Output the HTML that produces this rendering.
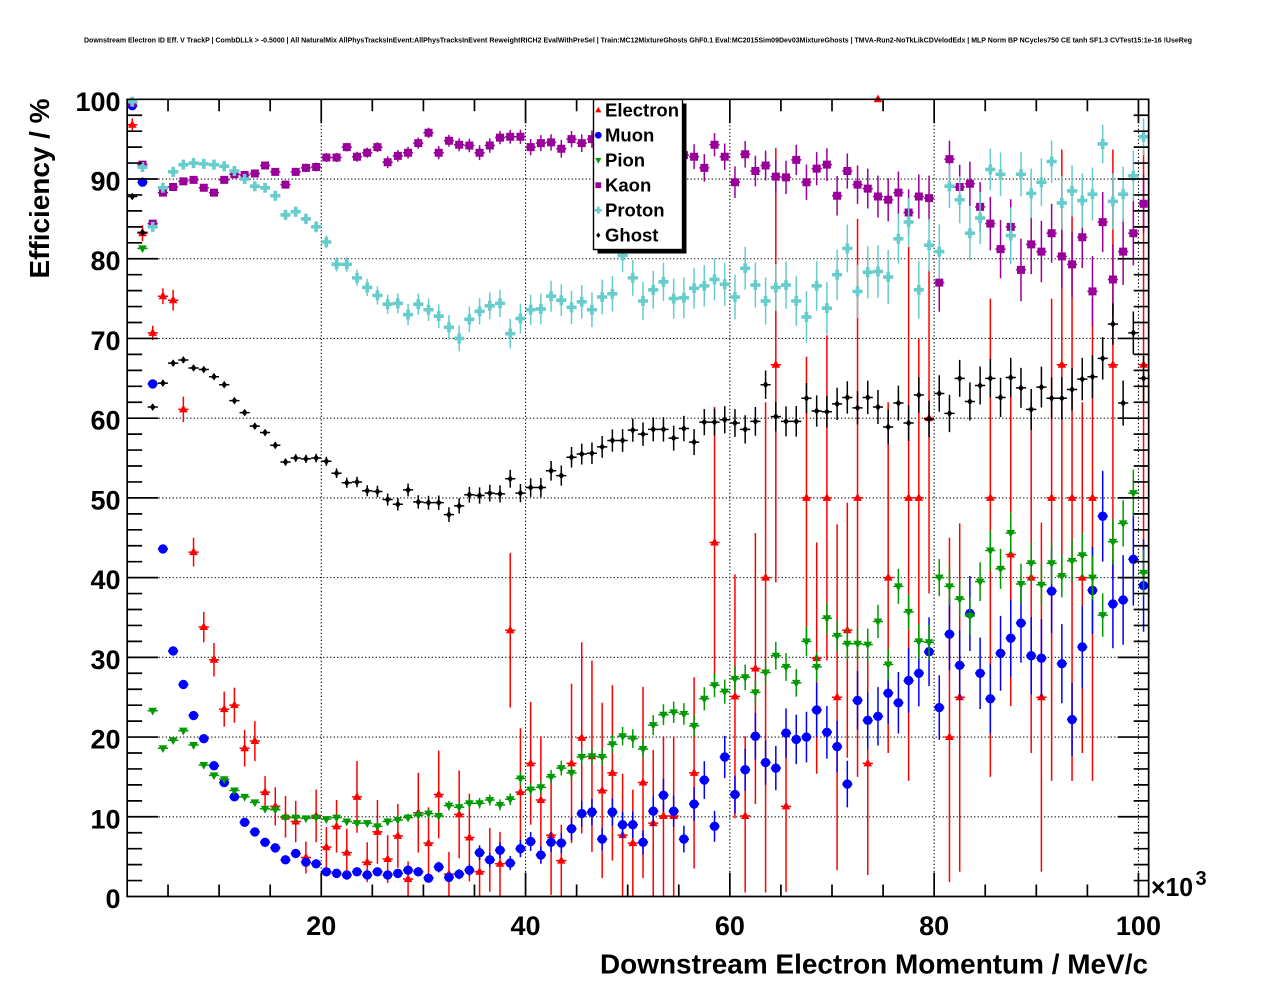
<!DOCTYPE html>
<html><head><meta charset="utf-8"><title>Downstream Electron ID Eff.</title>
<style>html,body{margin:0;padding:0;background:#fff;overflow:hidden}svg{display:block}text{font-family:"Liberation Sans",Arial,Helvetica,sans-serif}</style></head>
<body>
<svg id="c" xmlns="http://www.w3.org/2000/svg" width="1276" height="996" viewBox="0 0 1276 996">
<rect x="0" y="0" width="1276" height="996" fill="#fff"/>
<text x="638" y="42.5" font-size="7.5" font-weight="bold" text-anchor="middle" textLength="1108" lengthAdjust="spacingAndGlyphs">Downstream Electron ID Eff. V TrackP | CombDLLk &gt; -0.5000 | All NaturalMix AllPhysTracksInEvent:AllPhysTracksInEvent ReweightRICH2 EvalWithPreSel | Train:MC12MixtureGhosts GhF0.1 Eval:MC2015Sim09Dev03MixtureGhosts | TMVA-Run2-NoTkLikCDVelodEdx | MLP Norm BP NCycles750 CE tanh SF1.3 CVTest15:1e-16 !UseReg</text>
<g id="plot"></g>
<g id="axes"></g>
<g id="legend">
<rect x="597.5" y="103.5" width="89" height="150" fill="#000"/>
<rect x="593.5" y="99.5" width="89" height="150" fill="#fff" stroke="#000" stroke-width="1.4"/>
<g font-weight="bold" font-size="18.5" fill="#000">
<text x="605" y="116.7">Electron</text>
<text x="605" y="141.7">Muon</text>
<text x="605" y="166.7">Pion</text>
<text x="605" y="191.7">Kaon</text>
<text x="605" y="216.7">Proton</text>
<text x="605" y="241.7">Ghost</text>
</g>
<g id="legmk"></g>
</g>
<g font-weight="bold" font-size="27" fill="#000" text-anchor="end">
<text x="120.5" y="908">0</text>
<text x="120.5" y="828.3">10</text>
<text x="120.5" y="748.6">20</text>
<text x="120.5" y="668.8">30</text>
<text x="120.5" y="589.1">40</text>
<text x="120.5" y="509.4">50</text>
<text x="120.5" y="429.7">60</text>
<text x="120.5" y="350">70</text>
<text x="120.5" y="270.2">80</text>
<text x="120.5" y="190.5">90</text>
<text x="120.5" y="110.8">100</text>
</g>
<g font-weight="bold" font-size="27" fill="#000" text-anchor="middle">
<text x="321.25" y="935">20</text>
<text x="525.55" y="935">40</text>
<text x="729.85" y="935">60</text>
<text x="934.15" y="935">80</text>
<text x="1138.45" y="935">100</text>
</g>
<text x="1151" y="896" font-size="26" font-weight="bold" textLength="42" lengthAdjust="spacingAndGlyphs">×10</text>
<text x="1195.5" y="885" font-size="20" font-weight="bold">3</text>
<text x="1148" y="973.3" font-size="28" font-weight="bold" text-anchor="end" textLength="548" lengthAdjust="spacingAndGlyphs">Downstream Electron Momentum / MeV/c</text>
<text transform="translate(49,98.5) rotate(-90)" x="0" y="0" font-size="28" font-weight="bold" text-anchor="end" textLength="180" lengthAdjust="spacingAndGlyphs">Efficiency / %</text>
</svg>
<script>
(function(){
var X=function(v){return 116.95+10.215*v;}, Y=function(v){return 896.5-7.972*v;};
function f(n){return n.toFixed(2);}
var shapes={
 tu:function(x,y,s){return 'M'+f(x)+','+f(y-4.8*s)+'L'+f(x+4.3*s)+','+f(y+3.0*s)+'L'+f(x-4.3*s)+','+f(y+3.0*s)+'Z';},
 td:function(x,y,s){return 'M'+f(x)+','+f(y+4.8*s)+'L'+f(x+4.3*s)+','+f(y-3.0*s)+'L'+f(x-4.3*s)+','+f(y-3.0*s)+'Z';},
 ci:function(x,y,s){var r=4.7*s;return 'M'+f(x-r)+','+f(y)+'a'+f(r)+','+f(r)+' 0 1,0 '+f(2*r)+',0a'+f(r)+','+f(r)+' 0 1,0 '+f(-2*r)+',0Z';},
 sq:function(x,y,s){var h=4.0*s;return 'M'+f(x-h)+','+f(y-h)+'h'+f(2*h)+'v'+f(2*h)+'h'+f(-2*h)+'Z';},
 cr:function(x,y,s){var a=5.0*s,t=1.8*s;return 'M'+f(x-t)+','+f(y-a)+'H'+f(x+t)+'V'+f(y-t)+'H'+f(x+a)+'V'+f(y+t)+'H'+f(x+t)+'V'+f(y+a)+'H'+f(x-t)+'V'+f(y+t)+'H'+f(x-a)+'V'+f(y-t)+'H'+f(x-t)+'Z';},
 di:function(x,y,s){return 'M'+f(x)+','+f(y-3.8*s)+'L'+f(x+2.8*s)+','+f(y)+'L'+f(x)+','+f(y+3.8*s)+'L'+f(x-2.8*s)+','+f(y)+'Z';}
};
var E=[[96.8,0.8],[83.2,1.0],[70.7,0.9],[75.3,1.0],[74.8,1.3],[61.1,1.6],[43.2,1.8],[33.8,1.9],[29.7,2.1],[23.5,2.2],
[24.0,2.2],[18.6,2.3],[19.5,2.5],[13.1,2.0],[11.3,2.4],[10.0,2.6],[9.4,2.6],[4.9,2.0],[10.1,3.3],[6.2,2.5],
[8.8,3.3],[5.5,3.0],[12.5,4.5],[4.3,2.5],[8.1,4.0],[4.7,3.0],[7.6,4.0],[2.2,2.2],[10.5,5.0],[6.7,4.5],
[12.8,5.5],[2.8,2.8],[10.3,5.5],[7.4,5.5],[3.1,3.1],[4.6,4.0],[4.1,4.0],[33.4,9.7],[13.1,8],[16.7,7.7],
[12.1,8],[7.7,7.5],[4.5,4.5],[16.7,10],[19.9,12],[17.6,12],[13.3,11],[15.5,11],[7.7,7.7],[6.7,6.7],
[14.3,12],[9.2,9.2],[10.1,10],[10.1,10],null,[15.5,12],null,[44.4,17],null,[25.1,15.3],
[10.1,9.6,10],[28.6,17],[40,39.5,22],[66.7,27.3,27.2],[11.3,10.7,9.6],null,[50,17.7],[29.9,14.5],[50,20.4],[25,21.7],
[33.4,16],[50,35],[16.7,14],[100,0],[40,22],null,[50,35.5,31.5],[50,20],[60,22,18.6],null,
[20,18.2,25],[25,21.9,21.8],null,null,[50,35,25],null,[42.9,19,20],null,[40,22],[25,21.9],
[50,35.5,25],[66.7,27],[50,35.5],[40,22],[50,35.5,25],null,[66.7,27],null,null,[66.7,27]];
var M=[99.2,89.6,64.3,43.6,30.8,26.6,22.7,19.8,16.4,14.3,
12.5,9.3,8.1,6.8,6.1,4.6,5.4,4.3,4.1,3.1,
2.9,2.7,3.1,2.7,3.1,2.7,2.9,3.3,3.1,2.3,
3.7,2.4,2.8,3.3,5.5,4.6,5.8,4.2,6.0,6.9,
5.2,6.8,6.7,8.5,10.4,10.6,7.2,10.6,9.0,9.0,
6.8,10.7,12.7,10.7,7.2,11.6,14.6,8.8,17.5,12.8,
15.9,20.1,16.8,16.1,20.5,19.7,20.0,23.4,20.6,18.8,
14.1,24.6,22.1,22.6,25.5,24.3,27.1,28.0,30.7,23.7,
32.9,29.0,35.5,28.0,24.8,30.5,32.4,34.3,30.2,29.9,
38.3,29.2,22.2,31.3,38.4,47.7,36.7,37.2,42.3,39.0];
var P=[99.7,81.3,23.3,18.6,19.6,20.8,19.0,16.5,15.2,14.7,
13.3,12.5,11.8,11.0,10.9,9.9,9.9,9.8,9.9,9.7,
9.9,9.4,9.2,9.2,8.8,9.4,9.6,9.9,10.2,10.4,
10.1,11.4,11.2,11.7,11.7,12.1,11.5,12.2,14.8,13.4,
13.7,15.0,16.1,15.5,17.5,17.6,17.5,19.1,20.1,19.8,
18.5,21.5,22.8,23.1,22.9,21.4,24.8,26.5,25.7,27.3,
27.5,25.6,28.1,30.2,28.8,26.8,32.0,28.8,34.9,32.7,
31.7,31.7,31.6,34.5,29.1,38.9,35.7,32.0,31.9,40.0,
38.9,37.3,35.2,39.5,43.4,41.1,45.6,39.2,41.8,39.1,
41.8,40.2,42.1,42.8,40.0,35.3,44.5,46.8,50.6,40.6];
var K=[99.6,91.8,84.4,88.3,89.0,89.7,89.9,88.9,88.3,89.9,
90.6,90.5,90.7,91.7,90.9,89.3,90.9,91.4,91.5,92.7,
92.7,94.0,92.8,93.3,94.0,92.1,92.9,93.3,94.5,95.8,
93.3,94.8,94.3,94.2,93.3,94.2,95.2,95.3,95.3,94.0,
94.5,94.6,93.8,95.0,94.5,95.0,94.5,95.0,94.0,95.2,
94.3,93.8,94.8,93.5,93.0,92.8,91.4,94.3,92.8,89.6,
93.1,91.0,91.7,90.3,90.2,92.4,89.6,91.3,91.8,87.9,
91.0,89.3,88.8,87.8,87.4,88.3,85.8,87.8,87.6,77.0,
92.5,89.0,89.4,86.5,84.4,81.2,84.0,78.6,81.8,80.9,
83.2,80.3,79.3,82.7,75.9,84.6,77.4,80.9,83.2,86.9];
var PR=[99.7,91.5,84.0,88.9,90.9,91.8,92.0,91.9,91.8,91.6,
91.0,90.0,89.1,88.9,87.9,85.5,85.9,85.0,84.0,82.1,
79.3,79.3,77.6,76.4,75.4,74.3,74.4,73.0,74.3,73.6,
72.8,71.4,70.0,72.4,73.4,74.1,74.4,70.6,72.5,73.6,
73.7,75.3,74.8,73.9,74.6,73.6,75.2,75.6,80.4,77.6,
74.7,76.1,77.1,75.0,75.1,76.3,76.6,77.4,76.8,75.2,
78.8,76.7,74.7,76.4,76.7,74.7,72.7,76.6,73.8,78.0,
81.3,75.9,78.3,78.4,77.7,82.5,84.6,76.1,81.7,80.9,
89.1,87.4,83.2,85.1,91.2,90.6,82.9,90.6,88.2,89.6,
92.2,87.0,88.5,87.3,88.1,94.4,87.2,88.1,90.4,95.3];
var G=[87.8,83.3,61.4,64.4,66.9,67.3,66.3,66.1,65.2,64.2,
62.2,60.7,59.0,58.2,56.6,54.5,55.0,54.9,55.0,54.6,
53.1,51.9,52.0,50.9,50.8,49.8,49.2,51.0,49.5,49.4,
49.4,47.9,49.0,50.4,50.3,50.6,50.5,52.4,50.6,51.3,
51.3,53.4,52.8,55.1,55.5,55.6,56.4,57.2,57.2,58.5,
58.0,58.6,58.6,57.5,58.7,57.0,59.5,59.5,59.8,59.4,
58.6,59.6,64.2,60.2,59.6,59.6,62.5,60.9,60.8,61.8,
62.6,61.3,62.6,61.4,58.9,61.9,59.4,62.9,59.9,63.1,
60.6,65.0,62.1,64.1,65.0,62.6,65.1,63.8,61.1,63.9,
62.5,62.5,63.6,64.9,65.2,67.5,71.8,61.9,70.7,65.0];
function gen(arr,fac){return arr.map(function(v,k){var e=Math.max(0.15,Math.sqrt(Math.max(0,v*(100-v)))*fac*k);return [v,e];});}
function series(data,color,shape){
 var bars='',mk='';
 for(var k=0;k<data.length;k++){
  var d=data[k]; if(!d) continue;
  var v=d[0],lo=d[1],hi=(d.length>2?d[2]:d[1]);
  var x=X(k+1.5),y=Y(v);
  bars+='M'+f(x-5.1)+','+f(y)+'H'+f(x+5.1);
  if(lo>0||hi>0){var y1=Math.max(99.3,Y(v+hi)),y2=Math.min(896.5,Y(v-lo));bars+='M'+f(x)+','+f(y1)+'V'+f(y2);}
  mk+=shapes[shape](x,y,1);
 }
 return '<path d="'+bars+'" stroke="'+color+'" stroke-width="1.5" fill="none"/><path d="'+mk+'" fill="'+color+'"/>';
}
var g='';
var gp='';
for(var v=20;v<=100;v+=20){gp+='M'+f(X(v))+','+f(Y(0))+'V'+f(Y(100));}
for(var w=10;w<=90;w+=10){gp+='M'+f(X(1))+','+f(Y(w))+'H'+f(X(101));}
g+='<path d="'+gp+'" stroke="#000" stroke-width="1.1" stroke-dasharray="1.2 2.3" fill="none"/>';
g+=series(E,'#ff0000','tu');
g+=series(gen(M,0.0012),'#0000ff','ci');
g+=series(gen(P,0.0006),'#009900','td');
g+=series(gen(K,0.0011),'#990099','sq');
g+=series(gen(PR,0.0011),'#66cccc','cr');
g+=series(gen(G,0.0006),'#000000','di');
document.getElementById('plot').innerHTML=g;
var x1=X(1),x2=X(101),yb=Y(0),yt=Y(100);
var a='M'+f(x1)+','+f(yt)+'H'+f(x2)+'V'+f(yb)+'H'+f(x1)+'Z';
for(var t=5;t<=100;t+=5){var L=(t%20==0)?24:12;var xx=X(t);a+='M'+f(xx)+','+f(yb)+'v'+(-L)+'M'+f(xx)+','+f(yt)+'v'+L;}
for(var s=0;s<=100;s+=2){var LL=(s%10==0)?31:15;var yy=Y(s);a+='M'+f(x1)+','+f(yy)+'h'+LL+'M'+f(x2)+','+f(yy)+'h'+(-LL);}
document.getElementById('axes').innerHTML='<path d="'+a+'" stroke="#000" stroke-width="1.7" fill="none"/>';
var lm='';
var cols=['#ff0000','#0000ff','#009900','#990099','#66cccc','#000000'];
var shp=['tu','ci','td','sq','cr','di'];
for(var i=0;i<6;i++){lm+='<path d="'+shapes[shp[i]](598.3,110.2+25*i,0.72)+'" fill="'+cols[i]+'"/>';}
document.getElementById('legmk').innerHTML=lm;
})();
</script>
</body></html>
